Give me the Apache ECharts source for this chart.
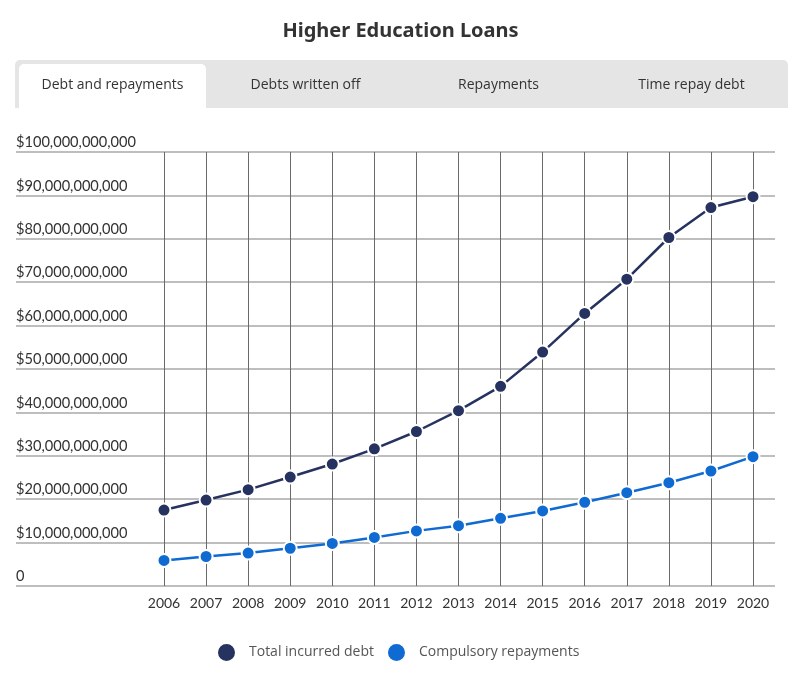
<!DOCTYPE html>
<html>
<head>
<meta charset="utf-8">
<script src="https://cdn.jsdelivr.net/npm/echarts@6/dist/echarts.min.js"></script>
<style>
  html, body { margin: 0; padding: 0; background: #fff; }
  #chart { width: 801px; height: 678px; }
</style>
</head>
<body>
<div id="chart"></div>
<script>
// 年份（x轴类目）
const years = ['2006', '2007', '2008', '2009', '2010', '2011', '2012', '2013', '2014', '2015', '2016', '2017', '2018', '2019', '2020']
// 累计债务（单位：十亿）
const totalDebt = [17.5, 19.8, 22.2, 25.1, 28.1, 31.6, 35.6, 40.4, 46.0, 53.9, 62.8, 70.7, 80.3, 87.2, 89.7]
// 强制还款（单位：十亿）
const repayments = [5.9, 6.8, 7.6, 8.7, 9.8, 11.2, 12.7, 13.9, 15.6, 17.3, 19.3, 21.5, 23.8, 26.5, 29.8]
// 选项卡文字
const tabs = ['Debt and repayments', 'Debts written off', 'Repayments', 'Time repay debt']
const seriesNames = ['Total incurred debt', 'Compulsory repayments']

const B = 1e9
const chartInstance = echarts.init(document.getElementById('chart'))

// 格式化成 $100,000,000,000 的样子，0 不带 $
const fmtMoney = (v) => {
  if (v === 0) return '0'
  return '$' + Math.round(v).toString().replace(/\B(?=(\d{3})+(?!\d))/g, ',')
}

// 选项卡用 graphic 画
const tabW = 193
const tabGraphics = [
  {
    type: 'rect',
    shape: { x: 15, y: 60, width: 773, height: 48, r: [5, 5, 0, 0] },
    style: { fill: '#e5e5e5' }
  },
  {
    type: 'rect',
    shape: { x: 19, y: 64, width: 187, height: 44, r: [5, 5, 0, 0] },
    style: { fill: '#ffffff' }
  }
]
tabs.forEach((t, i) => {
  tabGraphics.push({
    type: 'text',
    x: 16 + tabW * i + tabW / 2,
    y: 85,
    style: {
      text: t,
      fill: '#333',
      font: '14px "Open Sans", sans-serif',
      align: 'center',
      verticalAlign: 'middle'
    }
  })
})

const option = {
  animation: false,
  title: {
    text: 'Higher Education Loans',
    left: 'center',
    top: 16,
    textStyle: {
      fontFamily: '"Noto Sans", sans-serif',
      fontWeight: 'bold',
      fontSize: 20,
      color: '#333'
    }
  },
  graphic: tabGraphics,
  legend: {
    top: 637,
    left: 211,
    icon: 'circle',
    itemWidth: 19,
    itemHeight: 19,
    itemGap: 12,
    data: seriesNames,
    textStyle: {
      fontFamily: '"Open Sans", sans-serif',
      fontSize: 14,
      color: '#555',
      padding: [0, 0, 0, 8]
    }
  },
  // 两个grid：第一个画横向网格线和y轴文字，第二个画折线
  grid: [
    { left: 16, right: 26, top: 152, bottom: 92 },
    { left: 164, right: 48, top: 152, bottom: 92 }
  ],
  xAxis: [
    {
      gridIndex: 0,
      type: 'value',
      show: false
    },
    {
      gridIndex: 1,
      type: 'category',
      data: years,
      boundaryGap: false,
      axisLine: { show: false },
      axisTick: { show: false },
      axisLabel: {
        interval: 0,
        margin: 10,
        color: '#333',
        fontSize: 14,
        fontFamily: 'Lato, sans-serif'
      },
      splitLine: {
        show: true,
        interval: 0,
        lineStyle: { color: '#6a6a6a', width: 1 }
      }
    }
  ],
  yAxis: [
    {
      gridIndex: 0,
      type: 'value',
      min: 0,
      max: 100 * B,
      interval: 10 * B,
      axisLine: { show: false },
      axisTick: { show: false },
      axisLabel: {
        inside: true,
        margin: 0,
        verticalAlign: 'bottom',
        padding: [0, 0, 2, 0],
        color: '#333',
        fontSize: 14.6,
        fontFamily: 'Lato, sans-serif',
        formatter: fmtMoney
      },
      splitLine: {
        show: true,
        lineStyle: { color: '#a8a8a8', width: 1.5 }
      }
    },
    {
      gridIndex: 1,
      type: 'value',
      min: 0,
      max: 100 * B,
      interval: 10 * B,
      show: false
    }
  ],
  series: [
    {
      name: seriesNames[0],
      type: 'line',
      xAxisIndex: 1,
      yAxisIndex: 1,
      data: totalDebt.map(v => v * B),
      symbol: 'circle',
      symbolSize: 13,
      color: '#26325f',
      lineStyle: { width: 2.5, color: '#26325f' },
      itemStyle: { color: '#26325f', borderColor: '#fff', borderWidth: 2 },
      z: 3
    },
    {
      name: seriesNames[1],
      type: 'line',
      xAxisIndex: 1,
      yAxisIndex: 1,
      data: repayments.map(v => v * B),
      symbol: 'circle',
      symbolSize: 13,
      color: '#0f6ad2',
      lineStyle: { width: 2.5, color: '#0f6ad2' },
      itemStyle: { color: '#0f6ad2', borderColor: '#fff', borderWidth: 2 },
      z: 3
    }
  ]
}
chartInstance.setOption(option)
</script>
</body>
</html>
